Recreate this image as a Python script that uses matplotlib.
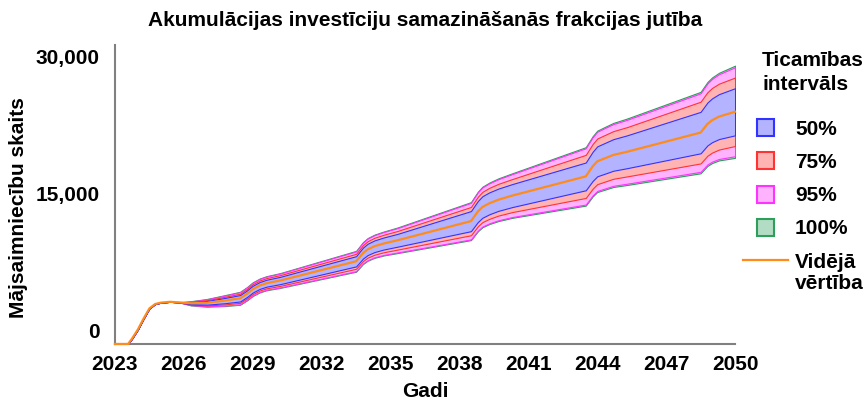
import matplotlib
matplotlib.use("Agg")
import matplotlib.pyplot as plt
import numpy as np
from matplotlib.patches import Patch, Rectangle
from matplotlib.lines import Line2D
from matplotlib.legend_handler import HandlerPatch, HandlerLine2D
from matplotlib.transforms import ScaledTranslation

plt.rcParams['font.family'] = ['Liberation Sans', 'DejaVu Sans']
plt.rcParams['font.weight'] = 'bold'

title = "Akumulācijas investīciju samazināšanās frakcijas jutība"
xlabel = "Gadi"
ylabel = "Mājsaimniecību skaits"
legend_title = "Ticamības\nintervāls"
band_labels = ["50%", "75%", "95%", "100%"]
mean_label = "Vidējā\nvērtība"
xticks = [2023, 2026, 2029, 2032, 2035, 2038, 2041, 2044, 2047, 2050]
yticks = [0, 15000, 30000]

years = [2023.0, 2023.57, 2023.75, 2024.0, 2024.25, 2024.5, 2024.75, 2025.0, 2025.4, 2025.8,
         2026.3, 2027.0, 2027.8, 2028.45, 2028.75, 2029.0, 2029.3, 2029.6, 2030.2,
         2033.5, 2033.8, 2034.0, 2034.3, 2034.7, 2035.3,
         2038.5, 2038.8, 2039.0, 2039.3, 2039.7, 2040.3,
         2043.5, 2043.8, 2044.0, 2044.3, 2044.7, 2045.3,
         2048.5, 2048.8, 2049.0, 2049.3, 2050.0]

mean = [0, 0, 620, 1600, 2800, 3900, 4380, 4530, 4620, 4560,
        4460, 4510, 4760, 5010, 5510, 6010, 6410, 6660, 6960,
        9060, 9960, 10360, 10710, 11010, 11360,
        13460, 14510, 15010, 15410, 15810, 16260,
        18360, 19460, 20010, 20310, 20710, 21060,
        23160, 24110, 24510, 24910, 25440]

hw50 = [0, 0, 0, 0, 0, 0, 0, 0, 0, 0,
        100, 200, 290, 350, 360, 370, 375, 380, 400,
        560, 600, 620, 640, 660, 700,
        1100, 1150, 1180, 1200, 1220, 1260,
        1520, 1600, 1640, 1680, 1730, 1800,
        2270, 2350, 2400, 2460, 2580]

hw75 = [0, 0, 0, 0, 0, 0, 0, 0, 0, 0,
        150, 290, 420, 500, 520, 540, 550, 560, 590,
        820, 870, 900, 930, 960, 1020,
        1550, 1620, 1660, 1700, 1740, 1810,
        2360, 2450, 2500, 2550, 2610, 2700,
        3380, 3480, 3540, 3610, 3750]

hw95 = [0, 0, 0, 0, 0, 0, 0, 0, 0, 0,
        200, 380, 550, 660, 680, 700, 710, 720, 760,
        1080, 1140, 1180, 1210, 1250, 1330,
        2000, 2090, 2140, 2190, 2250, 2350,
        3080, 3180, 3240, 3300, 3380, 3500,
        4300, 4440, 4530, 4640, 4870]

hw100 = [0, 0, 0, 0, 0, 0, 0, 0, 0, 0,
         230, 420, 600, 710, 730, 750, 760, 770, 810,
         1140, 1200, 1240, 1270, 1310, 1400,
         2080, 2170, 2220, 2270, 2340, 2440,
         3200, 3300, 3360, 3430, 3510, 3640,
         4460, 4600, 4690, 4800, 5050]

x = np.array(years)
m = np.array(mean, dtype=float)
bands = [np.array(hw100, float), np.array(hw95, float), np.array(hw75, float), np.array(hw50, float)]
fills = ["#b3dcc4", "#ffb3ff", "#ffb3b3", "#b3b3ff"]
edges = ["#2e9e5b", "#ff33ff", "#ff3333", "#3333ff"]
labels_outer_first = ["100%", "95%", "75%", "50%"]
line_color = "#ff8c1a"

fig = plt.figure(figsize=(8.67, 4.03), dpi=100)
ax = fig.add_axes([0.1326, 0.1464, 0.7152, 0.7416])

for hw, fc, ec in zip(bands, fills, edges):
    ax.fill_between(x, m - hw, m + hw, facecolor=fc, edgecolor=ec, linewidth=0.8)
ax.plot(x, m, color=line_color, linewidth=1.6, zorder=3, clip_on=False)

ax.set_xlim(2023, 2050)
ax.set_ylim(0, 32740)
ax.set_xticks(xticks)
ax.set_xticklabels([str(t) for t in xticks])
ax.set_yticks(yticks)
ax.set_yticklabels([f"{t:,}" for t in yticks])
ax.tick_params(axis='x', length=0, labelsize=15, pad=8)
ax.tick_params(axis='y', length=0, labelsize=15, pad=11)
for lab in ax.get_xticklabels() + ax.get_yticklabels():
    lab.set_fontweight('bold')
shift = ScaledTranslation(0, 13.5 / 100, fig.dpi_scale_trans)
for tick in ax.yaxis.get_major_ticks():
    tick.label1.set_transform(tick.label1.get_transform() + shift)
for s in ["top", "right"]:
    ax.spines[s].set_visible(False)
for s in ["left", "bottom"]:
    ax.spines[s].set_color("#808080")
    ax.spines[s].set_linewidth(1.5)
    ax.spines[s].set_zorder(2.5)

ax.set_xlabel(xlabel, fontsize=15, fontweight='bold', va='center')
ax.xaxis.set_label_coords(0.5, -0.16)
ax.set_ylabel(ylabel, fontsize=15, fontweight='bold', va='center')
ax.yaxis.set_label_coords(-0.156, 0.458)
fig.text(425 / 867, 1 - 20 / 403, title, ha='center', va='center',
         fontsize=15, fontweight='bold')

fig.text(762 / 867, 1 - 51 / 403, legend_title, ha='left', va='top',
         fontsize=15, fontweight='bold', linespacing=1.35)


class SquareHandler(HandlerPatch):
    def create_artists(self, legend, orig_handle, xdescent, ydescent,
                       width, height, fontsize, trans):
        side = 12.2
        cx = -xdescent + width / 2
        cy = -ydescent + height / 2
        r = Rectangle((cx - side / 2, cy - side / 2), side, side,
                      facecolor=orig_handle.get_facecolor(),
                      edgecolor=orig_handle.get_edgecolor(),
                      linewidth=1.5, transform=trans)
        return [r]


class TopLineHandler(HandlerLine2D):
    def create_artists(self, legend, orig_handle, xdescent, ydescent,
                       width, height, fontsize, trans):
        arts = super().create_artists(legend, orig_handle, xdescent, ydescent,
                                      width, height, fontsize, trans)
        for a in arts:
            a.set_ydata(np.asarray(a.get_ydata(), float) + 9.0)
        return arts


handles = []
hmap = {}
for lab in band_labels:
    i = labels_outer_first.index(lab)
    p = Patch(facecolor=fills[i], edgecolor=edges[i], linewidth=1.5, label=lab)
    handles.append(p)
    hmap[p] = SquareHandler()
mline = Line2D([0], [0], color=line_color, linewidth=1.6, label=mean_label)
handles.append(mline)
hmap[mline] = TopLineHandler()

leg = fig.legend(handles=handles, loc='upper left',
                 bbox_to_anchor=(743 / 867, 1 - 120 / 403),
                 frameon=False, fontsize=15, handler_map=hmap,
                 handlelength=2.16, handleheight=0.7, handletextpad=0.34,
                 labelspacing=0.68, borderpad=0, borderaxespad=0)
for t in leg.get_texts():
    t.set_fontweight('bold')
    t.set_linespacing(1.15)

fig.savefig("out.png", dpi=100)
